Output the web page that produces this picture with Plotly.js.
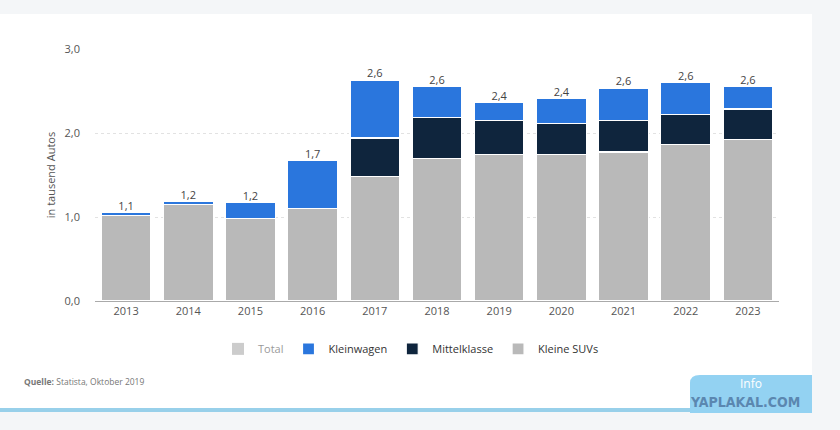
<!DOCTYPE html>
<html>
<head>
<meta charset="utf-8">
<script src="https://cdn.plot.ly/plotly-3.0.1.min.js"></script>
<style>
html,body{margin:0;padding:0;background:#f4f6f8;}
#chart{width:840px;height:430px;}
</style>
</head>
<body>
<div id="chart"></div>
<script>
var years = ['2013','2014','2015','2016','2017','2018','2019','2020','2021','2022','2023'];
var kleineSUVs = [1.02,1.15,0.98,1.10,1.48,1.70,1.74,1.74,1.775,1.86,1.92];
var mittelklasse = [0,0,0,0,0.46,0.48,0.41,0.37,0.37,0.365,0.365];
var kleinwagen = [0.03,0.03,0.19,0.57,0.69,0.37,0.21,0.30,0.39,0.375,0.265];
var totals = [1.1,1.2,1.2,1.7,2.6,2.6,2.4,2.4,2.6,2.6,2.6];

var stackTop = years.map(function(_,i){return kleineSUVs[i]+mittelklasse[i]+kleinwagen[i];});
var totalText = totals.map(function(v){return v.toFixed(1).replace('.',',');});

var font = 'Open Sans, Noto Sans, sans-serif';
var line = {color:'#ffffff', width:1.2};

var traces = [
  {type:'bar', name:'Total', x:years, y:totals, visible:'legendonly',
   marker:{color:'#9a9a9a'}, legendrank:1, hoverinfo:'skip'},
  {type:'bar', name:'Kleine SUVs', x:years, y:kleineSUVs,
   marker:{color:'#b9b9b9', line:line}, legendrank:4},
  {type:'bar', name:'Mittelklasse', x:years, y:mittelklasse,
   marker:{color:'#0f253d', line:line}, legendrank:3},
  {type:'bar', name:'Kleinwagen', x:years, y:kleinwagen,
   marker:{color:'#2a76dd', line:line}, legendrank:2},
  {type:'scatter', mode:'text', x:years, y:stackTop, text:totalText,
   textposition:'top center', textfont:{size:11, color:'#444444', family:font},
   showlegend:false, hoverinfo:'skip', cliponaxis:false}
];

var layout = {
  width:840, height:430,
  margin:{l:95, r:61, t:49, b:129},
  paper_bgcolor:'rgba(0,0,0,0)',
  plot_bgcolor:'rgba(0,0,0,0)',
  barmode:'stack', bargap:0.2,
  separators:',.',
  font:{family:font, size:11, color:'#555555'},
  xaxis:{type:'category', showline:true, linecolor:'#aaaaaa', linewidth:1,
         showgrid:false, ticks:'', tickfont:{size:11, color:'#555555'},
         range:[-0.5,10.5], fixedrange:true},
  yaxis:{range:[0,3], dtick:1, tickformat:'.1f', showgrid:true,
         gridcolor:'#e2e2e2', griddash:'dot', gridwidth:1, zeroline:false,
         ticklabelstandoff:14, tickfont:{size:11, color:'#555555'},
         title:{text:'in tausend Autos', font:{size:11, color:'#555555'}, standoff:6},
         fixedrange:true},
  legend:{orientation:'h', traceorder:'normal', x:0.462, xanchor:'center', y:-0.19, yanchor:'middle',
          font:{size:11, color:'#333333'}, itemclick:false, itemdoubleclick:false},
  shapes:[
    {type:'rect', xref:'paper', yref:'paper', x0:-95/684, x1:(812-95)/684,
     y0:(301-410)/252, y1:(301-14)/252, fillcolor:'#ffffff', line:{width:0}, layer:'below'},
    {type:'rect', xref:'paper', yref:'paper', x0:-95/684, x1:(812-95)/684,
     y0:(301-412)/252, y1:(301-408)/252, fillcolor:'#98d0ea', line:{width:0}, layer:'below'},
    {type:'path', xref:'paper', yref:'paper', layer:'above',
     path:'M '+((690-95)/684)+' '+((301-413)/252)+' L '+((690-95)/684)+' '+((301-383)/252)+
          ' Q '+((690-95)/684)+' '+((301-375)/252)+' '+((700-95)/684)+' '+((301-375)/252)+
          ' L '+((812-95)/684)+' '+((301-375)/252)+' L '+((812-95)/684)+' '+((301-413)/252)+' Z',
     fillcolor:'#93d2f2', line:{width:0}}
  ],
  annotations:[
    {xref:'paper', yref:'paper', x:-73/684, y:(301-381)/252, xanchor:'left', yanchor:'middle',
     showarrow:false, text:'<b>Quelle:</b> Statista, Oktober 2019',
     font:{size:8.5, color:'#777777', family:font}},
    {xref:'paper', yref:'paper', x:(751-95)/684, y:(301-383)/252, xanchor:'center', yanchor:'middle',
     showarrow:false, text:'Info', font:{size:12, color:'#ffffff', family:font}},
    {xref:'paper', yref:'paper', x:(745-95)/684, y:(301-402)/252, xanchor:'center', yanchor:'middle',
     showarrow:false, text:'<b>YAPLAKAL.COM</b>',
     font:{size:14, color:'#5b87b0', family:'Liberation Sans Narrow, DejaVu Sans Condensed, sans-serif'}}
  ]
};

Plotly.newPlot('chart', traces, layout, {displayModeBar:false});
</script>
</body>
</html>
